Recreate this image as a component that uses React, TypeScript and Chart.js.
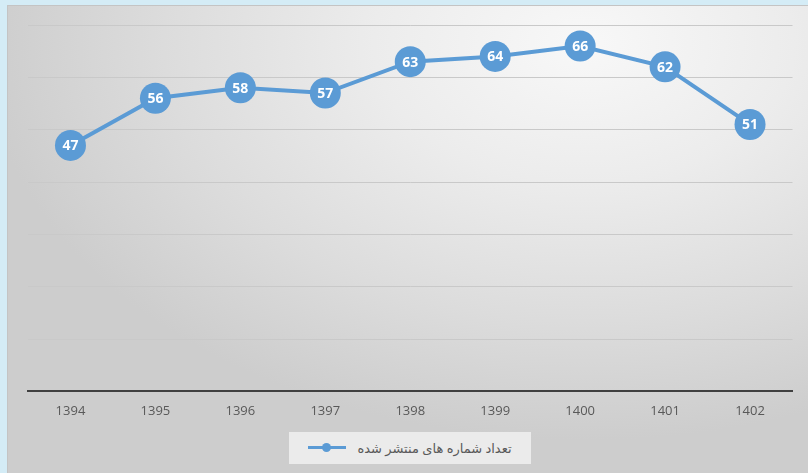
import React, { useEffect, useRef } from "react";
import { Chart, registerables } from "chart.js";

Chart.register(...registerables);

const categories = ["1394", "1395", "1396", "1397", "1398", "1399", "1400", "1401", "1402"];
const values = [47, 56, 58, 57, 63, 64, 66, 62, 51];
const seriesName = "تعداد شماره های منتشر شده";
const yMin = 0;
const yMax = 70;
const yStep = 10;

const LINE_COLOR = "#5b9bd5";

const pointLabels = {
  id: "pointLabels",
  afterDatasetsDraw(chart: any) {
    const ctx = chart.ctx;
    const meta = chart.getDatasetMeta(0);
    ctx.save();
    ctx.fillStyle = "#ffffff";
    ctx.font = "bold 14px 'Open Sans', sans-serif";
    ctx.textAlign = "center";
    ctx.textBaseline = "middle";
    meta.data.forEach((pt: any, i: number) => {
      ctx.fillText(String(chart.data.datasets[0].data[i]), pt.x, pt.y + 1);
    });
    ctx.restore();
  },
};

export default function App() {
  const ref = useRef<HTMLCanvasElement | null>(null);
  useEffect(() => {
    if (!ref.current) return;
    const chart = new Chart(ref.current, {
      type: "line",
      data: {
        labels: categories,
        datasets: [
          {
            label: seriesName,
            data: values,
            borderColor: LINE_COLOR,
            backgroundColor: LINE_COLOR,
            borderWidth: 4,
            pointRadius: 15.5,
            pointBorderWidth: 0,
            pointBackgroundColor: LINE_COLOR,
            tension: 0,
          },
        ],
      },
      options: {
        animation: false,
        responsive: false,
        maintainAspectRatio: false,
        layout: { padding: { left: 20, right: 14, top: 19, bottom: 0 } },
        plugins: { legend: { display: false }, tooltip: { enabled: false } },
        scales: {
          x: {
            offset: true,
            grid: { display: false, drawTicks: false },
            border: { display: true, color: "#404040", width: 2 },
            ticks: {
              color: "#595959",
              font: { family: "'Open Sans', sans-serif", size: 13 },
              padding: 12,
            },
          },
          y: {
            min: yMin,
            max: yMax,
            ticks: { stepSize: yStep, display: false },
            grid: {
              drawTicks: false,
              color: (c: any) => (c.tick && c.tick.value === 0 ? "rgba(0,0,0,0)" : "#c9c9c9"),
              lineWidth: 1,
            },
            border: { display: false },
          },
        },
      },
      plugins: [pointLabels],
    });
    return () => chart.destroy();
  }, []);

  return (
    <div
      style={{
        position: "fixed",
        left: 0,
        top: 0,
        width: 808,
        height: 473,
        background: "#d4ecf6",
        overflow: "hidden",
      }}
    >
      <div
        style={{
          position: "absolute",
          left: 7,
          top: 5,
          width: 801,
          height: 468,
          borderTop: "1px solid #c4c4c4",
          borderLeft: "1px solid #c4c4c4",
          boxSizing: "border-box",
          background:
            "radial-gradient(ellipse 75% 85% at 72% 8%, #f8f8f8 0%, #ececec 35%, #dcdcdc 70%, #cdcdcd 100%)",
        }}
      >
        <canvas
          ref={ref}
          width={800}
          height={425}
          style={{ position: "absolute", left: 0, top: 0, width: 800, height: 425 }}
        />
        <div
          style={{
            position: "absolute",
            left: 281,
            top: 426,
            width: 242,
            height: 32,
            background: "rgba(240,240,240,0.85)",
            display: "flex",
            alignItems: "center",
            justifyContent: "center",
            gap: 11,
          }}
        >
          <span
            dir="rtl"
            style={{
              fontFamily: "'Noto Sans', 'DejaVu Sans', sans-serif",
              fontSize: 13,
              color: "#595959",
              order: 2,
            }}
          >
            {seriesName}
          </span>
          <span style={{ position: "relative", width: 38, height: 10, order: 1, display: "inline-block" }}>
            <span
              style={{
                position: "absolute",
                left: 0,
                top: 3,
                width: 38,
                height: 3,
                background: LINE_COLOR,
              }}
            />
            <span
              style={{
                position: "absolute",
                left: 14,
                top: 0,
                width: 9,
                height: 9,
                borderRadius: "50%",
                background: LINE_COLOR,
              }}
            />
          </span>
        </div>
      </div>
    </div>
  );
}
